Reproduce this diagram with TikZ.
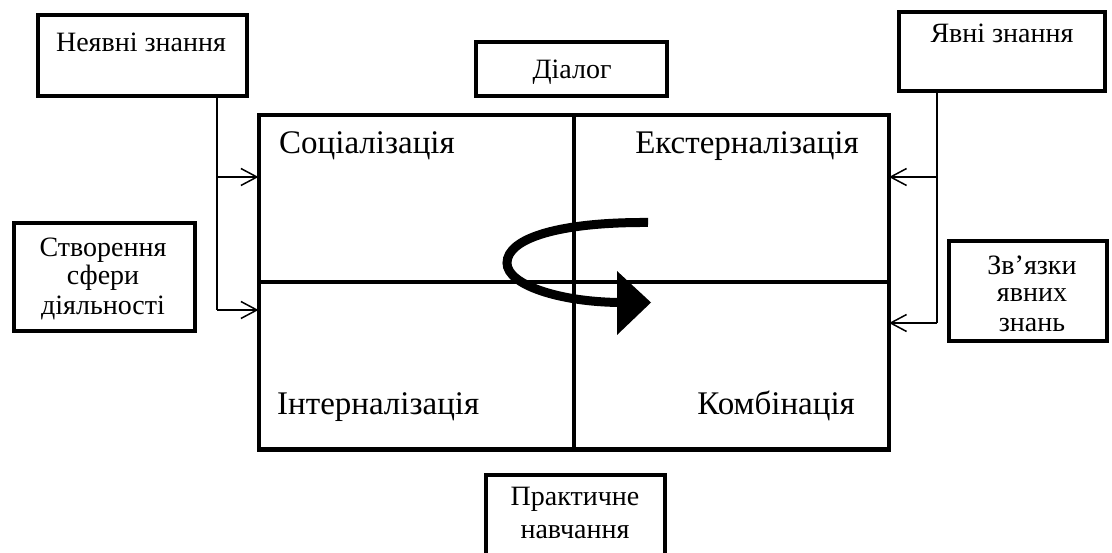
\documentclass[tikz,border=0pt]{standalone}
\usepackage{fontspec}
\setmainfont{Liberation Serif}
\usetikzlibrary{arrows.meta}
\begin{document}
\begin{tikzpicture}[x=1pt,y=-1pt,
  box/.style={draw, line width=4pt, rectangle, inner sep=0pt, outer sep=0pt},
  big/.style={font=\fontsize{33}{38}\selectfont, inner sep=0pt, anchor=base},
  small/.style={font=\fontsize{28}{32}\selectfont, inner sep=0pt, anchor=base},
  conn/.style={line width=1.5pt},
  arr/.style={line width=1.5pt, -{Straight Barb[length=16pt,width=17pt]}}
]
\useasboundingbox (0,0) rectangle (1112,553);
% boxes
\node[box, minimum width=209pt, minimum height=81pt] (nz) at (142,56) {};
\node[box, minimum width=206pt, minimum height=79pt] (yz) at (1002,51.5) {};
\node[box, minimum width=191pt, minimum height=54pt] (dl) at (571.5,69) {};
\node[box, minimum width=181pt, minimum height=108pt] (sv) at (104.5,277) {};
\node[box, minimum width=158pt, minimum height=100pt] (zv) at (1028,291) {};
\node[box, minimum width=179pt, minimum height=85pt] (pn) at (575.5,517.5) {};
\node[box, minimum width=630.5pt, minimum height=334.5pt] (main) at (573.75,282.25) {};
\draw[line width=4pt] (main.north) -- (main.south);
\draw[line width=4pt] (main.west) -- (main.east);
% texts
\node[small] (nzt) at (141,52) {Неявні знання};
\node[small] (yzt) at (1002,43) {Явні знання};
\node[small] (dlt) at (572,79) {Діалог};
\node[big, anchor=base west] (q1) at (279,154) {Соціалізація};
\node[big, anchor=base east] (q2) at (859,154) {Екстерналізація};
\node[big, anchor=base west] (q3) at (277,415) {Інтерналізація};
\node[big, anchor=base east] (q4) at (855,415) {Комбінація};
\node[small] (sv1) at (103,257) {Створення};
\node[small] (sv2) at (103,285) {сфери};
\node[small] (sv3) at (103,315) {діяльності};
\node[small] (zv1) at (1032,275) {Зв’язки};
\node[small] (zv2) at (1032,302) {явних};
\node[small] (zv3) at (1032,332) {знань};
\node[small] (pn1) at (575,505) {Практичне};
\node[small] (pn2) at (575,538) {навчання};
% connectors
\coordinate (l1) at (217,177);
\coordinate (l2) at (217,310);
\coordinate (r1) at (937,177);
\coordinate (r2) at (937,323);
\draw[conn] (nz.south -| l2) -- (l2);
\draw[arr] (l1) -- (l1 -| main.west);
\draw[arr] (l2) -- (l2 -| main.west);
\draw[conn] (yz.south -| r2) -- (r2);
\draw[arr] (r1) -- (r1 -| main.east);
\draw[arr] (r2) -- (r2 -| main.east);
% central cycle arrow
\draw[line width=9pt] (648,222.5) .. controls (560,222) and (507,238) .. (507,263) .. controls (507,285) and (560,302) .. (620,302.5);
\fill (617,271) -- (651,302.5) -- (617,335) -- cycle;
\end{tikzpicture}
\end{document}
